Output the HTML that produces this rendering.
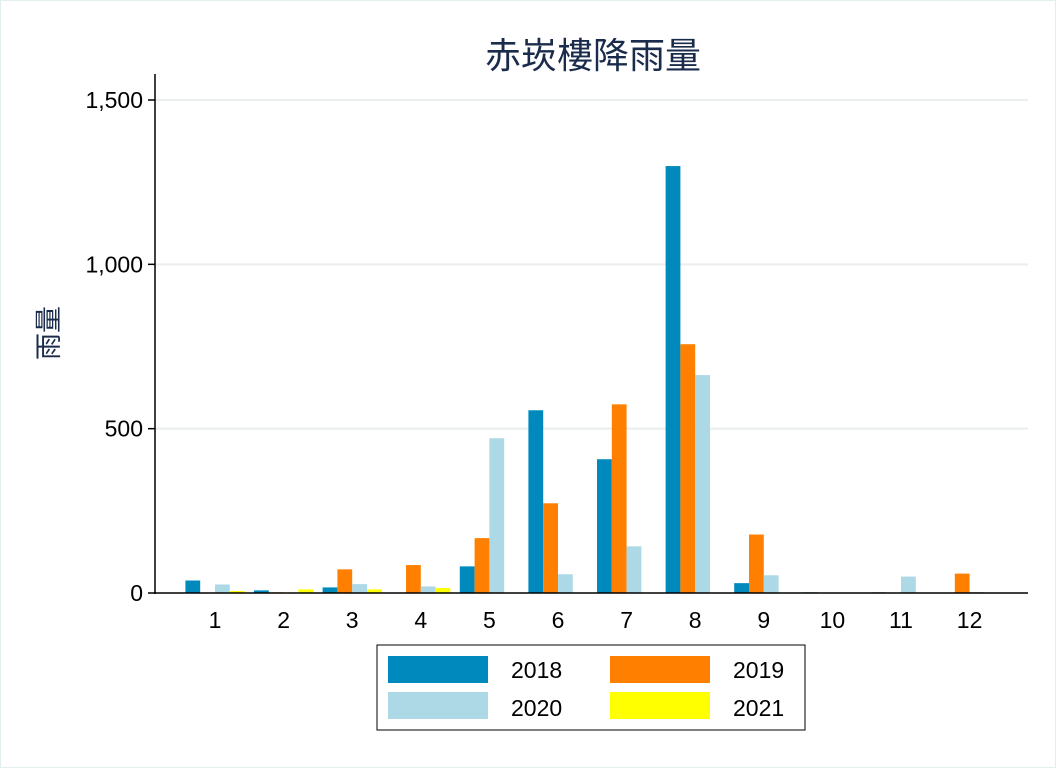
<!DOCTYPE html>
<html><head><meta charset="utf-8"><style>
body{margin:0;background:#fff}
svg{display:block;font-family:"Liberation Sans","Noto Sans CJK SC",sans-serif}
</style></head><body>
<svg width="1056" height="768" xmlns="http://www.w3.org/2000/svg">
<rect x="0.5" y="0.5" width="1055" height="767" fill="#fff" stroke="#e2eef0"/>
<text x="593" y="68" font-size="36" text-anchor="middle" fill="#1a2b4c">赤崁樓降雨量</text>
<text transform="translate(58,333) rotate(-90)" font-size="27" text-anchor="middle" fill="#1a2b4c">雨量</text>
<g id="grid"></g>
<g id="bars"></g>
<line x1="155" y1="74" x2="155" y2="594" stroke="#000" stroke-width="1.5"/>
<line x1="154" y1="593" x2="1028" y2="593" stroke="#000" stroke-width="1.5"/>
<g id="ticks"></g>
<g>
<rect x="377" y="645" width="428" height="85" fill="#fff" stroke="#000"/>
<rect x="388" y="656" width="100" height="27" fill="#0089bd"/>
<text x="511" y="678" font-size="23">2018</text>
<rect x="610" y="656" width="100" height="27" fill="#ff8000"/>
<text x="733" y="678" font-size="23">2019</text>
<rect x="388" y="692" width="100" height="27" fill="#add8e6"/>
<text x="511" y="716" font-size="23">2020</text>
<rect x="610" y="692" width="100" height="27" fill="#ffff00"/>
<text x="733" y="716" font-size="23">2021</text>
</g>
</svg>
<script>
const months=[1,2,3,4,5,6,7,8,9,10,11,12];
const s2018=[38,8,17,1,81,556,407,1299,30,2,2,0];
const s2019=[1,2,72,85,167,273,574,757,178,0,0,59];
const s2020=[26,1,27,20,471,57,142,663,54,1,50,3];
const s2021=[6,11,11,15,0,0,0,0,0,0,0,0];
const yTicks=[0,500,1000,1500];
const yTickLabels=["0","500","1,000","1,500"];
const series=[{name:'2018',v:s2018,c:'#0089bd'},{name:'2019',v:s2019,c:'#ff8000'},{name:'2020',v:s2020,c:'#add8e6'},{name:'2021',v:s2021,c:'#ffff00'}];
const NS='http://www.w3.org/2000/svg';
const y=v=>593-v*(493/1500);
const xc=i=>215+68.6*i;
const bw=14.8;
function mk(t,a,p){const e=document.createElementNS(NS,t);for(const k in a)e.setAttribute(k,a[k]);p.appendChild(e);return e;}
const grid=document.getElementById('grid'),ticks=document.getElementById('ticks'),bars=document.getElementById('bars');
yTicks.forEach((t,i)=>{
 if(t>0){const g=mk('line',{x1:155,x2:1028,y1:y(t),y2:y(t),stroke:'#eaeeee','stroke-width':2},grid);
 
 }
 const tk=mk('line',{x1:148,x2:155,y1:y(t),y2:y(t),stroke:'#000','stroke-width':1.5},ticks);
 
 
 const l=mk('text',{x:143,y:y(t)+8,'font-size':23,'text-anchor':'end'},ticks);l.textContent=yTickLabels[i];
 
 
});
months.forEach((m,i)=>{
 const l=mk('text',{x:xc(i),y:628,'font-size':23,'text-anchor':'middle'},ticks);l.textContent=m;
 
 
 series.forEach((s,j)=>{
  const v=s.v[i];const x0=xc(i)-2*bw+j*bw;
  const r=mk('rect',{x:x0,y:y(v),width:bw,height:Math.max(0,593-y(v)),fill:s.c},bars);
  
  
 });
});
</script>
</body></html>
